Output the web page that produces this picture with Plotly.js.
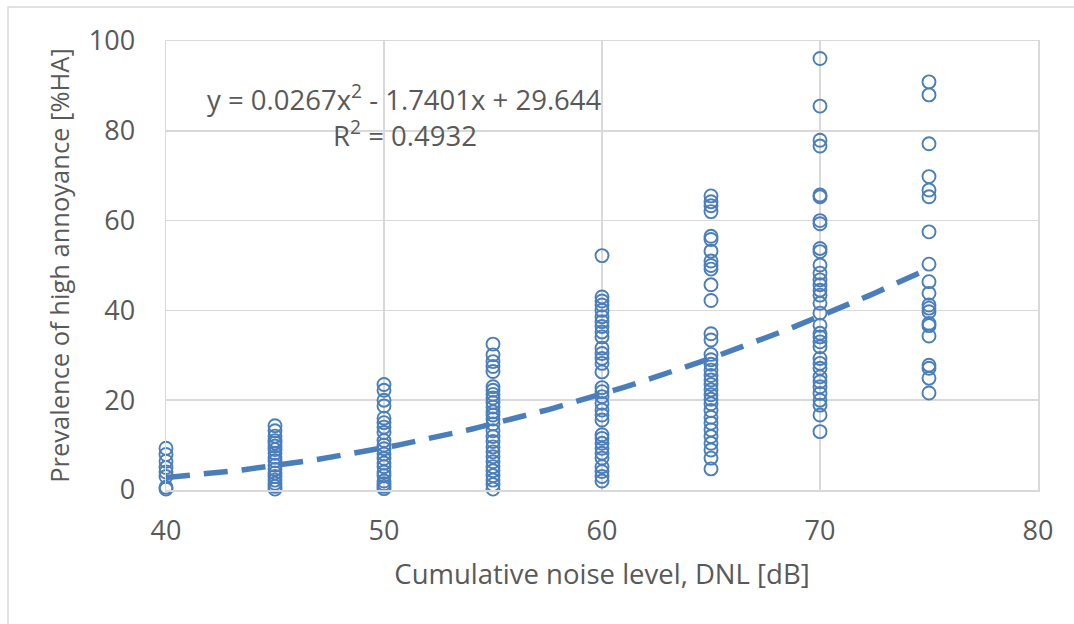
<!DOCTYPE html>
<html>
<head>
<meta charset="utf-8">
<script src="https://cdn.plot.ly/plotly-3.0.1.min.js"></script>
<style>html,body{margin:0;padding:0;background:#fff;}#chart{width:1074px;height:624px;}</style>
</head>
<body>
<div id="chart"></div>
<script>
// DNL levels (dB)
const dnlLevels = [40, 45, 50, 55, 60, 65, 70, 75];
// %HA values per DNL level
const ha40 = [9.3, 7.9, 6.4, 5.0, 4.0, 3.0, 0.6, 0.2];
const ha45 = [14.3, 13.2, 12.0, 11.0, 10.5, 9.8, 9.0, 8.2, 7.3, 6.5, 5.5, 4.6, 3.8, 3.0, 2.2, 1.5, 0.8, 0.2];
const ha50 = [23.5, 22.2, 20.0, 18.7, 16.0, 15.0, 14.0, 12.8, 11.0, 10.0, 9.2, 8.0, 7.0, 6.0, 5.2, 4.0, 3.2, 2.0, 1.4, 0.8, 0.3];
const ha55 = [32.5, 30.1, 28.6, 27.5, 26.4, 23.0, 22.2, 21.3, 20.5, 19.5, 18.5, 17.4, 16.7, 15.8, 14.7, 13.2, 11.9, 10.8, 9.6, 8.5, 7.4, 6.3, 5.2, 4.3, 3.2, 2.2, 1.2, 0.2];
const ha60 = [52.2, 43.0, 42.1, 41.2, 40.0, 38.6, 37.5, 36.4, 35.2, 34.1, 31.6, 30.4, 29.3, 28.2, 26.3, 22.8, 21.9, 20.8, 19.3, 17.8, 16.7, 15.6, 12.3, 11.5, 10.4, 9.3, 8.2, 7.1, 5.2, 4.1, 3.0, 2.0];
const ha65 = [65.5, 64.2, 63.3, 62.0, 56.5, 55.8, 53.2, 51.0, 50.0, 49.2, 45.7, 42.2, 34.8, 33.4, 30.2, 29.0, 28.0, 26.7, 25.5, 24.5, 23.5, 22.3, 21.2, 20.2, 19.2, 17.7, 16.2, 14.9, 13.4, 11.9, 10.4, 8.9, 7.1, 4.7];
const ha70 = [96.1, 85.5, 77.9, 76.6, 65.7, 65.3, 60.0, 59.3, 53.8, 53.1, 50.1, 48.3, 46.8, 45.7, 44.5, 43.4, 41.6, 39.4, 36.7, 34.9, 34.1, 33.0, 31.9, 29.3, 28.2, 27.1, 25.2, 24.1, 23.0, 21.5, 20.0, 18.9, 16.7, 13.0];
const ha75 = [90.9, 88.0, 77.1, 69.8, 66.8, 65.3, 57.5, 50.3, 46.4, 43.8, 41.2, 40.5, 39.7, 37.1, 36.6, 34.3, 27.8, 27.1, 24.9, 21.6];
const haGroups = [ha40, ha45, ha50, ha55, ha60, ha65, ha70, ha75];

// Polynomial trendline coefficients (a2, a1, a0) as shown in the chart
const trendCoef = [0.0267, -1.7401, 29.644];
const trendRange = [40, 75];

// Tick values
const xTicks = [40, 50, 60, 70, 80];
const yTicks = [0, 20, 40, 60, 80, 100];

const xs = [], ys = [];
haGroups.forEach((g, i) => g.forEach(v => { xs.push(dnlLevels[i]); ys.push(v); }));

const tx = [], ty = [];
for (let x = trendRange[0]; x <= trendRange[1] + 1e-9; x += 0.25) {
  tx.push(x);
  ty.push(trendCoef[0] * x * x + trendCoef[1] * x + trendCoef[2]);
}

const blue = '#4a7ebb';
const grey = '#595959';
const font = 'Open Sans, Noto Sans, sans-serif';

const data = [
  { x: tx, y: ty, type: 'scatter', mode: 'lines', hoverinfo: 'skip', cliponaxis: false,
    line: { color: blue, width: 5.5, dash: '24px,14px' } },
  { x: xs, y: ys, type: 'scatter', mode: 'markers', cliponaxis: false,
    marker: { symbol: 'circle-open', size: 13, color: blue, line: { width: 1.9, color: blue } } }
];

const layout = {
  width: 1074, height: 624,
  margin: { l: 166, r: 36, t: 41, b: 134 },
  paper_bgcolor: '#ffffff', plot_bgcolor: '#ffffff',
  showlegend: false,
  font: { family: font, color: grey, size: 27 },
  xaxis: {
    range: [40, 80], tickvals: xTicks, ticktext: xTicks.map(String),
    showgrid: true, gridcolor: '#d9d9d9', gridwidth: 1.5,
    showline: true, linecolor: '#d9d9d9', linewidth: 1.5, mirror: true,
    zeroline: false, ticks: '', ticklabelstandoff: 16,
    tickfont: { family: font, size: 27, color: grey },
    title: { text: 'Cumulative noise level, DNL [dB]', font: { family: font, size: 27.5, color: grey }, standoff: 18 }
  },
  yaxis: {
    range: [0, 100], tickvals: yTicks, ticktext: yTicks.map(String),
    showgrid: true, gridcolor: '#d9d9d9', gridwidth: 1.5,
    showline: true, linecolor: '#d9d9d9', linewidth: 1.5, mirror: true,
    zeroline: false, ticks: '', ticklabelstandoff: 24,
    tickfont: { family: font, size: 27, color: grey },
    title: { text: 'Prevalence of high annoyance [%HA]', font: { family: font, size: 25.5, color: grey }, standoff: 12 }
  },
  annotations: [
    { x: 50.96, y: 87.5, xref: 'x', yref: 'y', showarrow: false, xanchor: 'center', yanchor: 'middle',
      text: 'y = 0.0267x<sup>2</sup> - 1.7401x + 29.644', font: { family: font, size: 27.5, color: grey } },
    { x: 50.96, y: 79.3, xref: 'x', yref: 'y', showarrow: false, xanchor: 'center', yanchor: 'middle',
      text: 'R<sup>2</sup> = 0.4932', font: { family: font, size: 27.5, color: grey } }
  ],
  shapes: [
    { type: 'rect', xref: 'paper', yref: 'paper', x0: -0.1812, x1: 1.2, y0: -0.35, y1: 1.0757,
      line: { color: '#d9d9d9', width: 1.5 }, fillcolor: 'rgba(0,0,0,0)', layer: 'below' }
  ]
};

Plotly.newPlot('chart', data, layout, { displayModeBar: false, staticPlot: true });
</script>
</body>
</html>
